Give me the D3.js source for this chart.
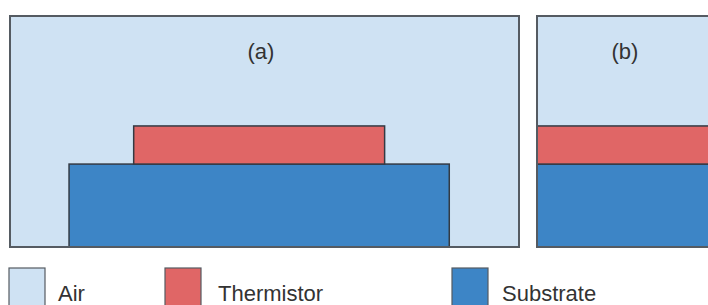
<!DOCTYPE html>
<html>
<head>
<meta charset="utf-8">
<script src="https://cdn.jsdelivr.net/npm/d3@7"></script>
<style>
  body { margin: 0; background: #fff; }
  svg { display: block; }
  text { font-family: "Liberation Sans", Arial, sans-serif; fill: #333; }
</style>
</head>
<body>
<div id="chart-container"></div>
<script>
// materials and their fills
var materials = ["Air", "Thermistor", "Substrate"];
var materialColors = ["#cfe2f3", "#e06666", "#3d85c6"];

// panels, labels
var panels = ["(a)", "(b)"];

// layer extents in panel units (0..100 across, 0..100 up from the bottom)
var layerMaterial = ["Substrate", "Thermistor", "Substrate", "Thermistor"];
var layerPanel    = ["(a)", "(a)", "(b)", "(b)"];
var layerX0 = [11.6, 24.3, 0, 0];
var layerX1 = [86.3, 73.6, 100, 100];
var layerY0 = [0, 35.9, 0, 35.9];
var layerY1 = [35.9, 52.4, 35.9, 52.4];

var width = 708, height = 305;

var svg = d3.select("#chart-container")
  .append("svg")
    .attr("width", width)
    .attr("height", height);

var color = d3.scaleOrdinal()
    .domain(materials)
    .range(materialColors);

// each panel gets its own horizontal offset
var panelLeft = d3.scaleOrdinal()
    .domain(panels)
    .range([10, 537]);

var x = d3.scaleLinear().domain([0, 100]).range([0, 509]);
var y = d3.scaleLinear().domain([0, 100]).range([247, 16]);

var g = svg.selectAll(".panel")
    .data(panels)
  .enter().append("g")
    .attr("class", "panel")
    .attr("transform", function(d) { return "translate(" + panelLeft(d) + ",0)"; });

g.append("rect")
    .attr("x", x(0))
    .attr("y", y(100))
    .attr("width", x(100) - x(0))
    .attr("height", y(0) - y(100))
    .style("fill", color("Air"));

g.each(function(p) {
  var layers = layerMaterial.map(function(m, i) {
    return {m: m, panel: layerPanel[i], x0: layerX0[i], x1: layerX1[i], y0: layerY0[i], y1: layerY1[i]};
  }).filter(function(d) { return d.panel == p; });

  d3.select(this).selectAll(".layer")
      .data(layers)
    .enter().append("rect")
      .attr("class", "layer")
      .attr("x", function(d) { return x(d.x0); })
      .attr("y", function(d) { return y(d.y1); })
      .attr("width", function(d) { return x(d.x1) - x(d.x0); })
      .attr("height", function(d) { return y(d.y0) - y(d.y1); })
      .style("fill", function(d) { return color(d.m); })
      .style("stroke", "#333a44")
      .style("stroke-width", 1.5);
});

g.append("rect")
    .attr("x", x(0))
    .attr("y", y(100))
    .attr("width", x(100) - x(0))
    .attr("height", y(0) - y(100))
    .style("fill", "none")
    .style("stroke", "#555b62")
    .style("stroke-width", 2);

g.append("text")
    .attr("x", function(d, i) { return i ? 88 : 251; })
    .attr("y", 59)
    .attr("text-anchor", "middle")
    .style("font-size", "22px")
    .text(function(d) { return d; });

// legend
var legendX = d3.scaleOrdinal()
    .domain(materials)
    .range([9, 165, 452]);

var legend = svg.selectAll(".legend")
    .data(materials)
  .enter().append("g")
    .attr("class", "legend")
    .attr("transform", function(d) { return "translate(" + legendX(d) + ",268)"; });

legend.append("rect")
    .attr("width", 36)
    .attr("height", 42)
    .style("fill", function(d) { return color(d); })
    .style("stroke", "#555b62")
    .style("stroke-width", 1.2);

legend.append("text")
    .attr("x", function(d, i) { return [49, 53, 50][i]; })
    .attr("y", 33)
    .style("font-size", "22px")
    .text(function(d) { return d; });
</script>
</body>
</html>
